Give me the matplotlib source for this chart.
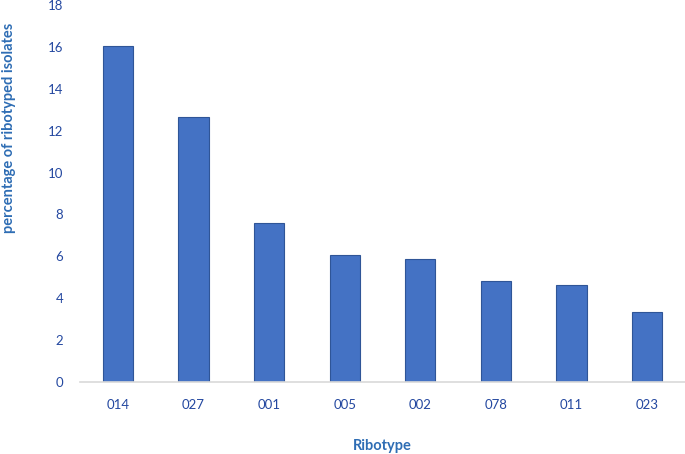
import matplotlib
matplotlib.use("Agg")
import matplotlib.pyplot as plt

ribotypes = ["014", "027", "001", "005", "002", "078", "011", "023"]
percent = [16.05, 12.65, 7.58, 6.08, 5.88, 4.83, 4.62, 3.34]

plt.rcParams["font.family"] = ["Lato", "DejaVu Sans"]
tick_col = "#2448a0"
lab_col = "#2e6db4"

fig = plt.figure(figsize=(6.85, 4.54), dpi=100)
ax = fig.add_axes([80 / 685, 72 / 454, 605 / 685, 377 / 454])

ax.bar(range(len(ribotypes)), percent, width=0.4, color="#4472c4", edgecolor="#2f5597", linewidth=0.8)
ax.set_xlim(-0.5, len(ribotypes) - 0.5)
ax.set_ylim(0, 18)
ax.set_yticks(range(0, 19, 2))
ax.set_xticks(range(len(ribotypes)))
ax.set_xticklabels(ribotypes)

for s in ["top", "right", "left"]:
    ax.spines[s].set_visible(False)
ax.spines["bottom"].set_color("#d9d9d9")
ax.spines["bottom"].set_linewidth(1.2)
ax.tick_params(axis="both", length=0, labelsize=9.5, labelcolor=tick_col)
ax.tick_params(axis="y", pad=12)
ax.tick_params(axis="x", pad=12)

# labels placed in pixels, like the reference
fig.text(9 / 685, 1 - 128 / 454, "percentage of ribotyped isolates", rotation=90,
         ha="center", va="center", fontsize=10.5, fontweight="bold", color=lab_col)
fig.text(382 / 685, 1 - 446 / 454, "Ribotype", ha="center", va="center",
         fontsize=10.5, fontweight="bold", color=lab_col)

fig.savefig("out.png", dpi=100)
